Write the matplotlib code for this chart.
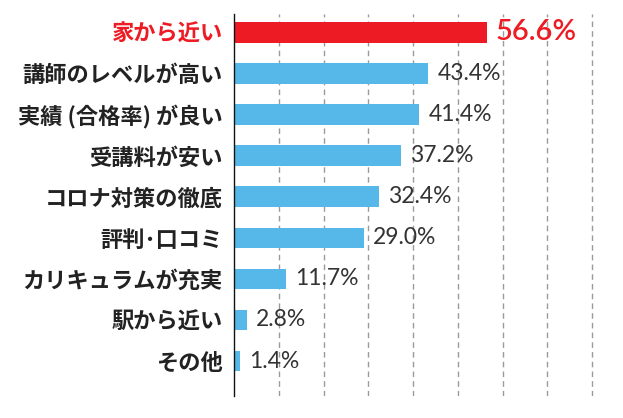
import matplotlib
matplotlib.use("Agg")
import matplotlib.pyplot as plt

categories = ["家から近い", "講師のレベルが高い", "実績 (合格率) が良い", "受講料が安い",
              "コロナ対策の徹底", "評判･口コミ", "カリキュラムが充実", "駅から近い", "その他"]
values = [56.6, 43.4, 41.4, 37.2, 32.4, 29.0, 11.7, 2.8, 1.4]
labels = ["56.6%", "43.4%", "41.4%", "37.2%", "32.4%", "29.0%", "11.7%", "2.8%", "1.4%"]
grid_ticks = [10, 20, 30, 40, 50, 60, 70, 80]

RED = "#ED1C24"
BLUE = "#56B8E8"
DARK = "#222222"

W, H = 623, 418
fig = plt.figure(figsize=(W / 100, H / 100), dpi=100)
left_px, right_px, top_px, bot_px = 234, 623, 14, 395.7
ax = fig.add_axes([left_px / W, 1 - bot_px / H, (right_px - left_px) / W, (bot_px - top_px) / H])

colors = [RED] + [BLUE] * (len(values) - 1)
y = list(range(len(values)))
ax.barh(y, values, height=0.5, color=colors, zorder=3)

ax.set_xlim(0, (right_px - left_px) / 4.477)
ax.set_ylim(8.842, -0.445)

ax.set_xticks(grid_ticks)
ax.set_xticklabels([])
ax.tick_params(axis="x", length=0)
ax.grid(axis="x", linestyle=(0, (4, 3)), color="#9a9a9a", linewidth=1, zorder=0)

ax.set_yticks(y)
ax.set_yticklabels(categories)
ax.tick_params(axis="y", length=0, pad=8)
for i, t in enumerate(ax.get_yticklabels()):
    t.set_fontfamily(["Noto Sans CJK JP", "DejaVu Sans"])
    t.set_fontweight("bold")
    t.set_fontsize(16)
    t.set_color(RED if i == 0 else DARK)

for s in ["top", "right", "bottom"]:
    ax.spines[s].set_visible(False)
ax.spines["left"].set_color("#111111")
ax.spines["left"].set_linewidth(1)
ax.spines["left"].set_zorder(4)

for i, (v, lab) in enumerate(zip(values, labels)):
    if i == 0:
        ax.annotate(lab, (v, i), xytext=(6, 0), textcoords="offset points",
                    va="center", ha="left", fontsize=21, color=RED,
                    family="Lato", fontweight="semibold")
    else:
        ax.annotate(lab, (v, i), xytext=(6.5, 0), textcoords="offset points",
                    va="center", ha="left", fontsize=16.5, color="#333333",
                    family="Lato", fontweight="normal")

fig.savefig("out.png", dpi=100, facecolor="white")
